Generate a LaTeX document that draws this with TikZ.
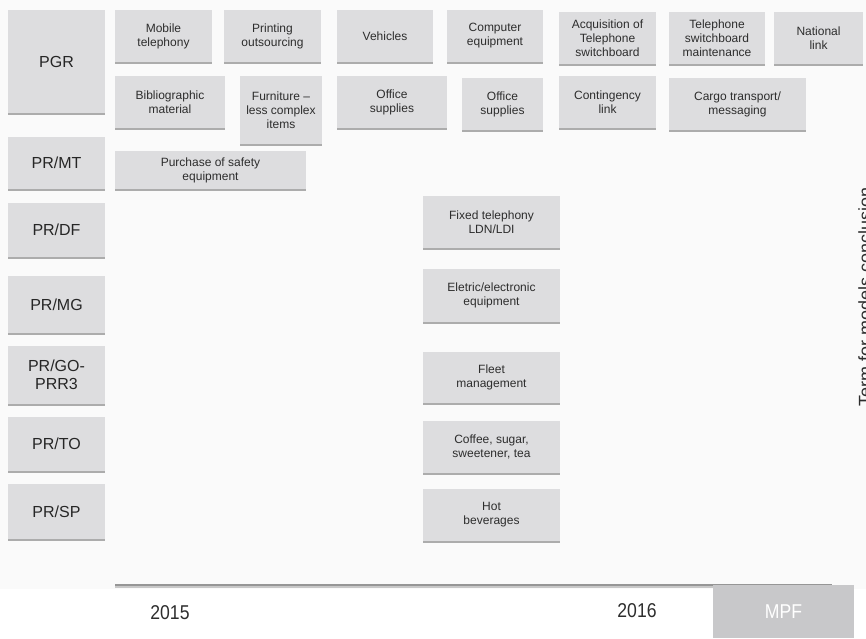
\documentclass[tikz,border=0pt]{standalone}
\usepackage{fontspec}
\setmainfont{Liberation Sans}
\newfontfamily\condfont[FakeStretch=0.88]{Liberation Sans}
\usetikzlibrary{shadows}
\definecolor{boxgray}{RGB}{221,221,223}
\definecolor{bggray}{RGB}{250,250,250}
\definecolor{txtgray}{RGB}{45,45,45}
\definecolor{mpfgray}{RGB}{200,200,202}
\definecolor{shadowgray}{RGB}{140,140,140}
\definecolor{axisdark}{RGB}{150,150,150}
\definecolor{axislight}{RGB}{200,200,200}
\newcommand{\mybox}[7]{\node[#1, minimum width={(#5-#3)*0.75pt}, minimum height={(#6-#4)*0.75pt}] (#2) at ({(#3+#5)/2},{(#4+#6)/2}) {#7};}
\begin{document}
\begin{tikzpicture}[x=0.75pt,y=-0.75pt,
  itembox/.style={fill=boxgray, inner sep=0pt, align=center, text=txtgray,
    font=\fontsize{9}{10.5}\selectfont,
    drop shadow={shadow xshift=0pt, shadow yshift=-1.3pt, fill=shadowgray, opacity=0.7}},
  labbox/.style={itembox, text=black!85, font=\fontsize{12}{13.5}\selectfont},
  yearlab/.style={inner sep=0pt, text=txtgray, font=\condfont\fontsize{15}{18}\selectfont}]
\useasboundingbox (0,0) rectangle (866,638);
\fill[bggray] (0,0) rectangle (866,589);
% left labels
\mybox{labbox}{pgr}{8}{10}{105}{113}{PGR}
\mybox{labbox}{prmt}{8}{137}{105}{189}{PR/MT}
\mybox{labbox}{prdf}{8}{203}{105}{257}{PR/DF}
\mybox{labbox}{prmg}{8}{276}{105}{333}{PR/MG}
\mybox{labbox}{prgo}{8}{346}{105}{404}{PR/GO-\\PRR3}
\mybox{labbox}{prto}{8}{417}{105}{471}{PR/TO}
\mybox{labbox}{prsp}{8}{484}{105}{539}{PR/SP}
% row 1
\mybox{itembox}{mob}{115}{10}{212}{62}{Mobile\\telephony}
\mybox{itembox}{prn}{224}{10}{321}{62}{Printing\\outsourcing}
\mybox{itembox}{veh}{337}{10}{433}{62}{Vehicles}
\mybox{itembox}{cmp}{447}{10}{543}{62}{Computer\\equipment}
\mybox{itembox}{acq}{559}{12}{656}{64}{Acquisition of\\Telephone\\switchboard}
\mybox{itembox}{tsm}{669}{12}{765}{64}{Telephone\\switchboard\\maintenance}
\mybox{itembox}{nat}{774}{12}{863}{64}{National\\link}
% row 2
\mybox{itembox}{bib}{115}{76}{225}{128}{Bibliographic\\material}
\mybox{itembox}{fur}{240}{76}{322}{144}{Furniture –\\less complex\\items}
\mybox{itembox}{off1}{337}{76}{447}{128}{Office\\supplies}
\mybox{itembox}{off2}{462}{78}{543}{130}{Office\\supplies}
\mybox{itembox}{con}{559}{76}{656}{128}{Contingency\\link}
\mybox{itembox}{car}{669}{78}{806}{130}{Cargo transport/\\messaging}
% PR/MT row
\mybox{itembox}{saf}{115}{151}{306}{189}{Purchase of safety\\equipment}
% middle column
\mybox{itembox}{fix}{423}{196}{560}{248}{Fixed telephony\\LDN/LDI}
\mybox{itembox}{ele}{423}{269}{560}{322}{Eletric/electronic\\equipment}
\mybox{itembox}{fle}{423}{352}{560}{403}{Fleet\\management}
\mybox{itembox}{cof}{423}{421}{560}{473}{Coffee, sugar,\\sweetener, tea}
\mybox{itembox}{hot}{423}{489}{560}{541}{Hot\\beverages}
% vertical note
\node[rotate=90, anchor=north, inner sep=0pt, text=txtgray, font=\fontsize{13.5}{16}\selectfont] (term) at (858,297) {Term for models conclusion};
% timeline
\coordinate (axL) at (115,585);
\coordinate (axR) at (832,585);
\draw[axislight, line width=1.6pt] ([yshift=-1.6pt]axL) -- ([yshift=-1.6pt]axR);
\draw[axisdark, line width=1.6pt] (axL) -- (axR);
\node[fill=mpfgray, inner sep=0pt, minimum width={141*0.75pt}, minimum height={53*0.75pt}, text=white, font=\condfont\fontsize{15}{18}\selectfont] (mpf) at (783.5,611.5) {MPF};
\node[yearlab] (y2015) at (170,613) {2015};
\node[yearlab] (y2016) at (637,611) {2016};
\end{tikzpicture}
\end{document}
